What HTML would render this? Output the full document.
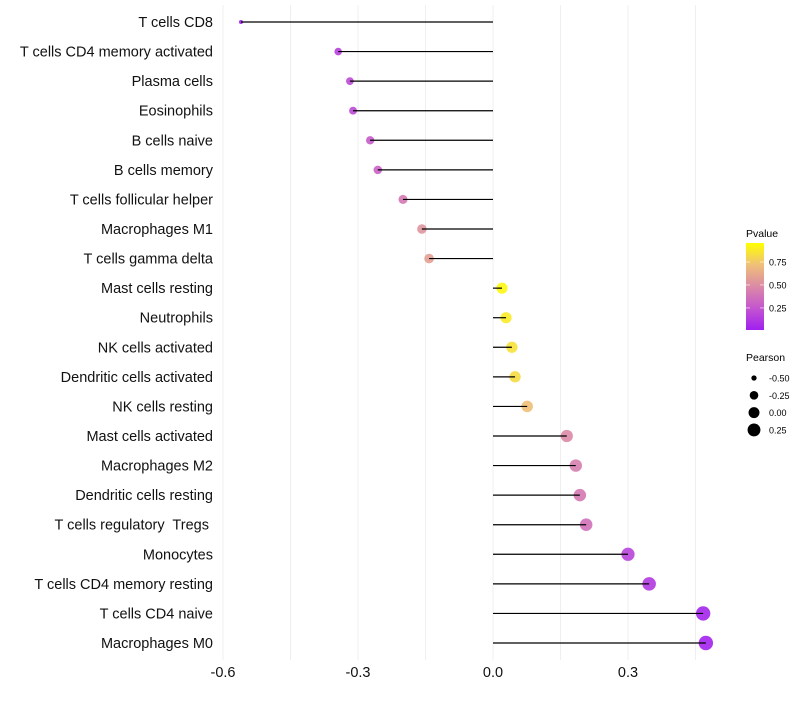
<!DOCTYPE html>
<html><head><meta charset="utf-8"><style>
body{margin:0;background:#fff;font-family:"Liberation Sans",sans-serif}
svg text{font-family:"Liberation Sans",sans-serif;white-space:pre}
</style></head><body>
<svg id="chart" width="800" height="700"></svg>
<script>
const categories=["T cells CD8","T cells CD4 memory activated","Plasma cells","Eosinophils","B cells naive","B cells memory","T cells follicular helper","Macrophages M1","T cells gamma delta","Mast cells resting","Neutrophils","NK cells activated","Dendritic cells activated","NK cells resting","Mast cells activated","Macrophages M2","Dendritic cells resting","T cells regulatory  Tregs ","Monocytes","T cells CD4 memory resting","T cells CD4 naive","Macrophages M0"];
const pearson=[-0.56,-0.344,-0.318,-0.311,-0.273,-0.256,-0.2,-0.158,-0.142,0.02,0.029,0.042,0.049,0.076,0.164,0.184,0.193,0.207,0.3,0.347,0.467,0.473];
const pvalue=[0.02,0.15,0.2,0.2,0.28,0.3,0.42,0.55,0.6,0.97,0.92,0.88,0.86,0.75,0.5,0.45,0.42,0.38,0.17,0.12,0.03,0.02];
const xTicks=[-0.6,-0.3,0.0,0.3];
const xTickLabels=["-0.6","-0.3","0.0","0.3"];
const gridVals=[-0.6,-0.45,-0.3,-0.15,0,0.15,0.3,0.45];
const legendP=[0.25,0.5,0.75];
const legendS=[-0.5,-0.25,0,0.25];

const NS="http://www.w3.org/2000/svg";
const svg=document.getElementById('chart');
function X(v){return 493+v*450;}
function Y(i){return 22+i*(643-22)/(categories.length-1);}
function R(v){return Math.sqrt(Math.max(1.5,30+46*v));}
const stops=[[0,[160,32,240]],[0.25,[196,85,207]],[0.5,[219,138,166]],[0.75,[239,192,120]],[1,[255,255,0]]];
function col(p){for(let k=0;k<stops.length-1;k++){const a=stops[k],b=stops[k+1];if(p<=b[0]){const t=(p-a[0])/(b[0]-a[0]);const c=a[1].map((v,j)=>Math.round(v+(b[1][j]-v)*t));return `rgb(${c})`;}}return 'rgb(255,255,0)';}
function el(t,a,p){const e=document.createElementNS(NS,t);for(const k in a)e.setAttribute(k,a[k]);(p||svg).appendChild(e);return e;}

gridVals.forEach(v=>{const g=el('line',{x1:X(v),x2:X(v),y1:5,y2:660,stroke:'#efefef','stroke-width':1});

});
categories.forEach((c,i)=>{
 const t=el('text',{x:213,y:Y(i)+5,'text-anchor':'end','font-size':14.5,fill:'#111'});t.textContent=c;
 
 
 const pt=el('circle',{cx:X(pearson[i]),cy:Y(i),r:R(pearson[i]),fill:col(pvalue[i]),'fill-opacity':0.9});
 
 
 const ln=el('line',{x1:X(0),x2:X(pearson[i]),y1:Y(i),y2:Y(i),stroke:'#000','stroke-width':1.2});
 
 
});
xTicks.forEach((v,i)=>{const t=el('text',{x:X(v),y:677,'text-anchor':'middle','font-size':14.5,fill:'#111'});t.textContent=xTickLabels[i];

});

const lt=el('text',{x:746,y:237,'font-size':10.5});lt.textContent='Pvalue';


const defs=el('defs',{});const gr=el('linearGradient',{id:'pg',x1:0,y1:1,x2:0,y2:0},defs);
stops.forEach(s=>el('stop',{offset:s[0],'stop-color':col(s[0])},gr));
const bar=el('rect',{x:746,y:243,width:18,height:87,fill:'url(#pg)'});


function PY(p){return 330-(p-0.01)*92;}
legendP.forEach(p=>{el('line',{x1:746,x2:750,y1:PY(p),y2:PY(p),stroke:'#fff','stroke-opacity':0.6});el('line',{x1:760,x2:764,y1:PY(p),y2:PY(p),stroke:'#fff','stroke-opacity':0.6});
const t=el('text',{x:769,y:PY(p)+3.5,'font-size':9});t.textContent=p.toFixed(2);

});
const st=el('text',{x:746,y:361,'font-size':10.5});st.textContent='Pearson';


legendS.forEach((v,i)=>{const y=378+i*17.3;
const c=el('circle',{cx:754,cy:y,r:R(v),fill:'#000'});


const t=el('text',{x:769,y:y+3.5,'font-size':9});t.textContent=v.toFixed(2);

});
</script>
</body></html>
